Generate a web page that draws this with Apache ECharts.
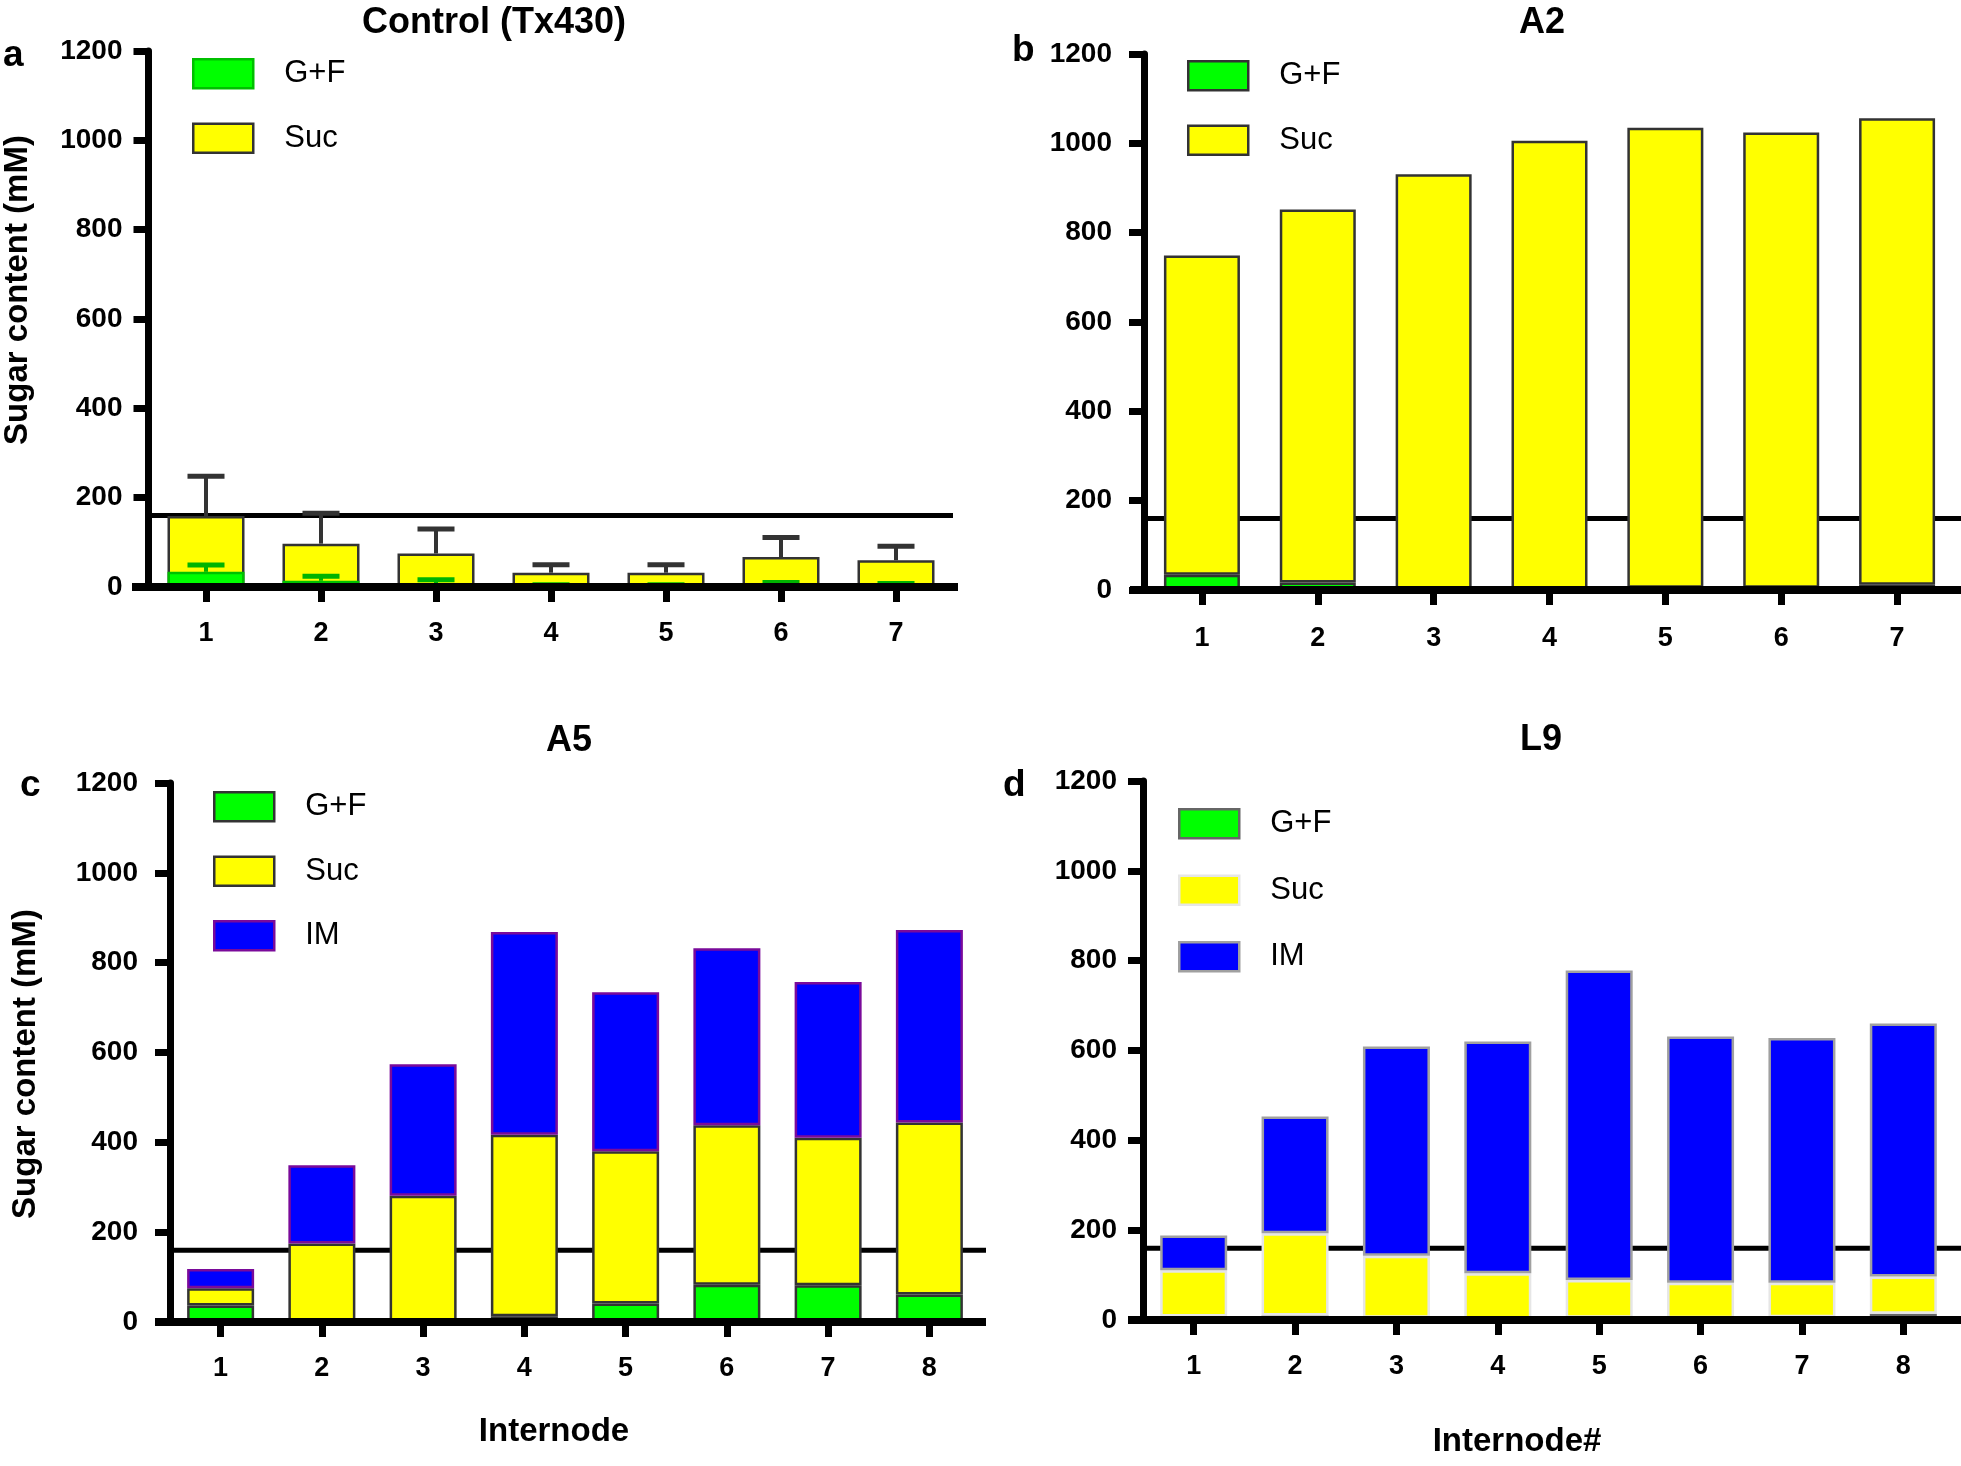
<!DOCTYPE html>
<html>
<head>
<meta charset="utf-8">
<script src="https://cdn.jsdelivr.net/npm/echarts@6/dist/echarts.min.js"></script>
<style>
html,body{margin:0;padding:0;background:#fff;}
#chart{width:1961px;height:1466px;}
</style>
</head>
<body>
<div id="chart"></div>
<script>
// ---------- data ----------
const categories7 = ['1', '2', '3', '4', '5', '6', '7'];
const categories8 = ['1', '2', '3', '4', '5', '6', '7', '8'];
const threshold = 160;

// Panel a: Control (Tx430) — overlaid bars, upper error bars
const gfA     = [34, 14, 7, 2, 2, 3, 2];
const gfErrA  = [15, 10, 9, 3, 3, 7, 6];
const sucA    = [159, 97, 75, 32, 32, 67, 60];
const sucErrA = [89, 68, 55, 18, 18, 44, 31];

// Panel b: A2 — stacked
const gfB  = [34, 17, 3, 3, 5, 5, 12];
const sucB = [715, 835, 928, 1003, 1030, 1019, 1044];

// Panel c: A5 — stacked
const gfC  = [37, 3, 3, 13, 41, 83, 82, 61];
const sucC = [38, 172, 278, 404, 339, 355, 328, 383];
const imC  = [43, 174, 293, 451, 354, 394, 347, 429];

// Panel d: L9 — stacked
const gfD  = [8, 10, 5, 3, 5, 4, 6, 14];
const sucD = [103, 183, 138, 101, 84, 79, 77, 83];
const imD  = [77, 260, 466, 516, 689, 548, 545, 563];

// ---------- styling ----------
const FONT = '"Liberation Sans", Arial, Helvetica, sans-serif';
const GREEN = '#00ff00', YELLOW = '#ffff00', BLUE = '#0000ff';

const chart = echarts.init(document.getElementById('chart'), null, {renderer: 'canvas'});

const grids = [
  {left: 148.5, top: 51,  width: 805, height: 536},
  {left: 1144,  top: 54,  width: 811, height: 536},
  {left: 170,   top: 783, width: 810, height: 539},
  {left: 1143,  top: 781, width: 811, height: 539}
];
const yMargins = [26, 32, 32, 26];

function xAxisFor(i, cats) {
  return {
    type: 'category', gridIndex: i, data: cats,
    axisLine: {show: false},
    axisTick: {show: true, alignWithLabel: true, length: 15, lineStyle: {color: '#000', width: 7}},
    axisLabel: {color: '#000', fontFamily: FONT, fontWeight: 'bold', fontSize: 27, margin: i === 1 ? 35 : 33},
    splitLine: {show: false}
  };
}
function yAxisFor(i) {
  return {
    type: 'value', gridIndex: i, min: 0, max: 1200, interval: 200,
    axisLine: {show: true, lineStyle: {color: '#000', width: 7}},
    axisTick: {show: true, length: 15, lineStyle: {color: '#000', width: 7}},
    axisLabel: {color: '#000', fontFamily: FONT, fontWeight: 'bold', fontSize: 28, margin: yMargins[i],
      formatter: v => String(v)},
    splitLine: {show: false}
  };
}

function errRender(color) {
  return function (params, api) {
    const x = api.value(0), m = api.value(1), e = api.value(2);
    const p0 = api.coord([x, m]);
    const p1 = api.coord([x, m + e]);
    const hw = 18.5;
    return {
      type: 'group',
      children: [
        {type: 'line', shape: {x1: p0[0], y1: p0[1], x2: p1[0], y2: p1[1]}, style: {stroke: color, lineWidth: 4}},
        {type: 'line', shape: {x1: p1[0] - hw, y1: p1[1], x2: p1[0] + hw, y2: p1[1]}, style: {stroke: color, lineWidth: 5}}
      ]
    };
  };
}

function legendFor(left, top, gap, items) {
  return {
    orient: 'vertical', left: left, top: top, padding: 0,
    itemWidth: 60, itemHeight: 29, itemGap: gap, selectedMode: false,
    icon: 'rect',
    textStyle: {color: '#000', fontFamily: FONT, fontSize: 31, padding: [0, 0, 0, 26]},
    data: items
  };
}

const series = [];
// Panel a
series.push({name: 'Suc', type: 'bar', xAxisIndex: 0, yAxisIndex: 0, data: sucA, barWidth: 77, barGap: '-100%',
  itemStyle: {color: YELLOW, borderColor: '#333', borderWidth: 2.5}, z: 2});
series.push({name: 'G+F', type: 'bar', xAxisIndex: 0, yAxisIndex: 0, data: gfA, barWidth: 77, barGap: '-100%',
  itemStyle: {color: GREEN, borderColor: '#00c000', borderWidth: 2.5}, z: 2});
series.push({type: 'custom', xAxisIndex: 0, yAxisIndex: 0, z: 3, renderItem: errRender('#333'),
  encode: {x: 0, y: 1}, data: sucA.map((v, i) => [i, v, sucErrA[i]])});
series.push({type: 'custom', xAxisIndex: 0, yAxisIndex: 0, z: 3, renderItem: errRender('#00b400'),
  encode: {x: 0, y: 1}, data: gfA.map((v, i) => [i, v, gfErrA[i]])});
// Panel b
series.push({name: 'G+F', type: 'bar', xAxisIndex: 1, yAxisIndex: 1, stack: 'b', data: gfB, barWidth: 76,
  itemStyle: {color: GREEN, borderColor: '#333', borderWidth: 2.5}, z: 2});
series.push({name: 'Suc', type: 'bar', xAxisIndex: 1, yAxisIndex: 1, stack: 'b', data: sucB, barWidth: 76,
  itemStyle: {color: YELLOW, borderColor: '#333', borderWidth: 2.5}, z: 2});
// Panel c
series.push({name: 'G+F', type: 'bar', xAxisIndex: 2, yAxisIndex: 2, stack: 'c', data: gfC, barWidth: 67,
  itemStyle: {color: GREEN, borderColor: '#333', borderWidth: 2.5}, z: 2});
series.push({name: 'Suc', type: 'bar', xAxisIndex: 2, yAxisIndex: 2, stack: 'c', data: sucC, barWidth: 67,
  itemStyle: {color: YELLOW, borderColor: '#333', borderWidth: 2.5}, z: 2});
series.push({name: 'IM', type: 'bar', xAxisIndex: 2, yAxisIndex: 2, stack: 'c', data: imC, barWidth: 67,
  itemStyle: {color: BLUE, borderColor: '#7a0a9a', borderWidth: 2.5}, z: 2});
// Panel d
series.push({name: 'G+F', type: 'bar', xAxisIndex: 3, yAxisIndex: 3, stack: 'd', data: gfD, barWidth: 67,
  itemStyle: {color: GREEN, borderColor: '#666', borderWidth: 2.5}, z: 2});
series.push({name: 'Suc', type: 'bar', xAxisIndex: 3, yAxisIndex: 3, stack: 'd', data: sucD, barWidth: 67,
  itemStyle: {color: YELLOW, borderColor: '#e6e6e6', borderWidth: 2.5}, z: 2});
series.push({name: 'IM', type: 'bar', xAxisIndex: 3, yAxisIndex: 3, stack: 'd', data: imD, barWidth: 67,
  itemStyle: {color: BLUE, borderColor: '#a0a0a0', borderWidth: 2.5}, z: 2});

const option = {
  animation: false,
  backgroundColor: '#fff',
  grid: grids,
  xAxis: [xAxisFor(0, categories7), xAxisFor(1, categories7), xAxisFor(2, categories8), xAxisFor(3, categories8)],
  yAxis: [yAxisFor(0), yAxisFor(1), yAxisFor(2), yAxisFor(3)],
  legend: [
    legendFor(192, 58, 33, [
      {name: 'G+F', itemStyle: {color: GREEN, borderColor: '#00c000', borderWidth: 2.5}},
      {name: 'Suc', itemStyle: {color: YELLOW, borderColor: '#333', borderWidth: 2.5}}
    ]),
    legendFor(1187, 60, 33, [
      {name: 'G+F', itemStyle: {color: GREEN, borderColor: '#333', borderWidth: 2.5}},
      {name: 'Suc', itemStyle: {color: YELLOW, borderColor: '#333', borderWidth: 2.5}}
    ]),
    legendFor(213, 791, 33, [
      {name: 'G+F', itemStyle: {color: GREEN, borderColor: '#333', borderWidth: 2.5}},
      {name: 'Suc', itemStyle: {color: YELLOW, borderColor: '#333', borderWidth: 2.5}},
      {name: 'IM', itemStyle: {color: BLUE, borderColor: '#7a0a9a', borderWidth: 2.5}}
    ]),
    legendFor(1178, 808, 35, [
      {name: 'G+F', itemStyle: {color: GREEN, borderColor: '#666', borderWidth: 2.5}},
      {name: 'Suc', itemStyle: {color: YELLOW, borderColor: '#e6e6e6', borderWidth: 2.5}},
      {name: 'IM', itemStyle: {color: BLUE, borderColor: '#a0a0a0', borderWidth: 2.5}}
    ])
  ],
  series: series
};
chart.setOption(option);

// ---------- axis base lines, threshold lines, texts ----------
const lineExt = [
  {ax1: 132,  ax2: 958,  tx1: 148,  tx2: 953},
  {ax1: 1130, ax2: 1961, tx1: 1145, tx2: 1961},
  {ax1: 155,  ax2: 986,  tx1: 170,  tx2: 986},
  {ax1: 1128, ax2: 1961, tx1: 1143, tx2: 1961}
];
const g = [];
lineExt.forEach((e, i) => {
  const y0 = chart.convertToPixel({yAxisIndex: i}, 0);
  const yt = chart.convertToPixel({yAxisIndex: i}, threshold);
  g.push({type: 'line', z: 1, shape: {x1: e.tx1, y1: yt, x2: e.tx2, y2: yt}, style: {stroke: '#000', lineWidth: 5}});
  g.push({type: 'line', z: 50, shape: {x1: e.ax1, y1: y0, x2: e.ax2, y2: y0}, style: {stroke: '#000', lineWidth: 8}});
});
function txt(text, x, y, size, weight, rot) {
  return {type: 'text', z: 60, x: x, y: y, rotation: rot || 0,
    style: {text: text, fill: '#000', font: weight + ' ' + size + 'px ' + FONT, align: 'center', verticalAlign: 'middle'}};
}
function letter(text, x, y) {
  return {type: 'text', z: 60, x: x, y: y,
    style: {text: text, fill: '#000', font: 'bold 37px ' + FONT, align: 'left', verticalAlign: 'middle'}};
}
g.push(txt('Control (Tx430)', 494, 23, 36, 'bold'));
g.push(txt('A2', 1542, 23, 36, 'bold'));
g.push(txt('A5', 569, 741, 36, 'bold'));
g.push(txt('L9', 1541, 740, 36, 'bold'));
g.push(letter('a', 3, 56));
g.push(letter('b', 1012, 51));
g.push(letter('c', 20, 786));
g.push(letter('d', 1003, 786));
g.push(txt('Sugar content (mM)', 18, 290, 33, 'bold', Math.PI / 2));
g.push(txt('Sugar content (mM)', 26, 1064, 33, 'bold', Math.PI / 2));
g.push(txt('Internode', 554, 1432, 33, 'bold'));
g.push(txt('Internode#', 1517, 1442, 33, 'bold'));
chart.setOption({graphic: {elements: g}});
</script>
</body>
</html>
